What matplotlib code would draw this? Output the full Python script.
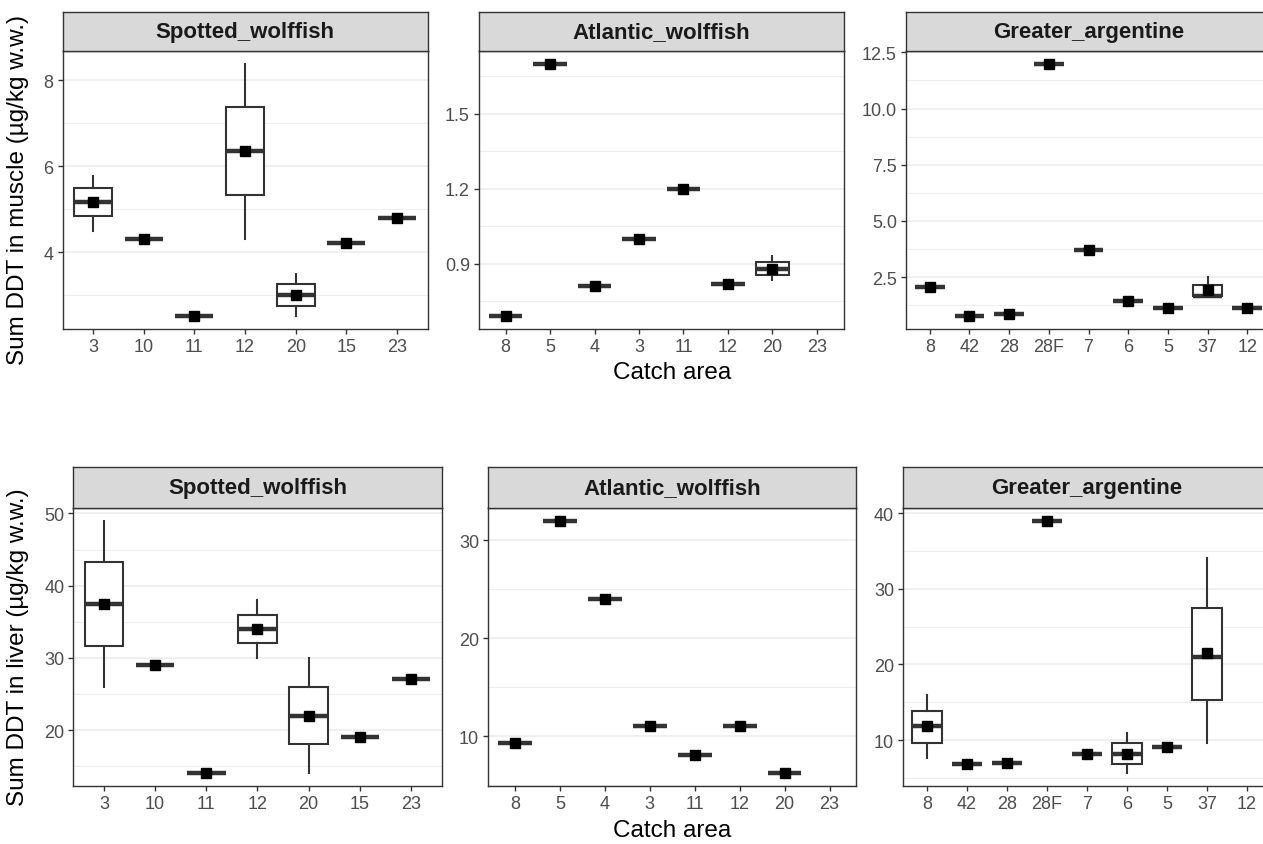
import numpy as np
import matplotlib
matplotlib.use("Agg")
from matplotlib import pyplot as plt
from matplotlib.ticker import MultipleLocator

plt.rcParams['font.family'] = ['Liberation Sans', 'DejaVu Sans']

species = ["Spotted_wolffish", "Atlantic_wolffish", "Greater_argentine"]

spotted_areas = ["3", "10", "11", "12", "20", "15", "23"]
atlantic_areas = ["8", "5", "4", "3", "11", "12", "20", "23"]
argentine_areas = ["8", "42", "28", "28F", "7", "6", "5", "37", "12"]

# box = (whisker low, q1, median, q3, whisker high, mean); single number = one sample; None = no sample
muscle_spotted = [(4.5, 4.83, 5.16, 5.49, 5.78, 5.16), 4.3, 2.5,
                  (4.31, 5.32, 6.35, 7.38, 8.39, 6.35),
                  (2.51, 2.75, 3.0, 3.25, 3.48, 3.0), 4.2, 4.8]
muscle_atlantic = [0.69, 1.70, 0.81, 1.0, 1.2, 0.82,
                   (0.834, 0.854, 0.878, 0.907, 0.93, 0.88), None]
muscle_argentine = [2.06, 0.75, 0.87, 12.0, 3.71, 1.45, 1.11,
                    (1.65, 1.65, 1.65, 2.14, 2.49, 1.93), 1.11]

liver_spotted = [(26.0, 31.7, 37.5, 43.3, 49.0, 37.5), 29.0, 14.0,
                 (30.0, 32.0, 34.0, 36.0, 38.0, 34.0),
                 (14.0, 18.0, 22.0, 26.0, 30.0, 22.0), 19.0, 27.0]
liver_atlantic = [9.35, 32.0, 24.0, 11.0, 8.05, 11.0, 6.2, None]
liver_argentine = [(7.6, 9.6, 11.8, 13.8, 15.9, 11.8), 6.8, 7.0, 39.0, 8.2,
                   (5.6, 6.8, 8.2, 9.55, 10.9, 8.2), 9.1,
                   (9.6, 15.3, 20.95, 27.45, 34.0, 21.5), None]

muscle_ticks = [(2, 1), (0.3, 0.15), (2.5, 1.25)]
liver_ticks = [(10, 5), (10, 5), (10, 5)]

W, H = 1263, 845
LINE = '#333333'


def make_stats(values):
  stats, pos = [], []
  for i, v in enumerate(values):
    if v is None:
      continue
    if not isinstance(v, tuple):
      v = (v, v, v, v, v, v)
    lo, q1, med, q3, hi, mean = v
    stats.append(dict(whislo=lo, q1=q1, med=med, q3=q3, whishi=hi, mean=mean, fliers=[]))
    pos.append(i)
  return stats, pos


def draw_panel(fig, rect, strip_h, title, areas, values, ticks):
  l, b, w, h = rect
  ax = fig.add_axes([l / W, 1 - b / H, w / W, h / H])
  stats, pos = make_stats(values)
  ax.bxp(stats, positions=pos, widths=0.75, showmeans=True, showcaps=False,
         patch_artist=True, showfliers=False,
         boxprops=dict(facecolor='white', edgecolor=LINE, linewidth=1.5),
         medianprops=dict(color=LINE, linewidth=3.2, solid_capstyle='butt'),
         whiskerprops=dict(color=LINE, linewidth=1.5),
         meanprops=dict(marker='s', markerfacecolor='black', markeredgecolor='black', markersize=6.8),
         zorder=3)
  lows = [s['whislo'] for s in stats]
  highs = [s['whishi'] for s in stats]
  span = max(highs) - min(lows)
  ax.set_ylim(min(lows) - 0.05 * span, max(highs) + 0.05 * span)
  ax.set_xlim(-0.6, len(areas) - 1 + 0.6)
  ax.set_xticks(range(len(areas)))
  ax.set_xticklabels(areas)
  ax.yaxis.set_major_locator(MultipleLocator(ticks[0]))
  ax.yaxis.set_minor_locator(MultipleLocator(ticks[1]))
  ax.grid(axis='y', which='major', color='#EBEBEB', linewidth=1.1, zorder=0)
  ax.grid(axis='y', which='minor', color='#EBEBEB', linewidth=0.6, zorder=0)
  ax.set_axisbelow(True)
  for sp in ax.spines.values():
    sp.set_color(LINE)
    sp.set_linewidth(1.0)
  ax.tick_params(which='major', length=3.5, width=1, color=LINE,
                 labelcolor='#4D4D4D', labelsize=13, pad=3)
  ax.tick_params(which='minor', length=0)

  sax = fig.add_axes([l / W, 1 - (b - h) / H, w / W, strip_h / H])
  sax.set_facecolor('#D9D9D9')
  sax.set_xticks([])
  sax.set_yticks([])
  for sp in sax.spines.values():
    sp.set_color(LINE)
    sp.set_linewidth(1.0)
  sax.text(0.5, 0.5, title, ha='center', va='center', fontsize=16,
           fontweight='bold', color='#1A1A1A', transform=sax.transAxes)
  return ax


fig = plt.figure(figsize=(W / 100, H / 100), dpi=100)

# (left, bottom, width, height) in pixels from top-left
top_rects = [(62.7, 330, 364.8, 278), (479, 330, 364.5, 278), (906, 330, 365, 278)]
bottom_rects = [(73.3, 787, 368.4, 278), (488, 787, 368.5, 278), (903, 787, 368, 278)]

muscle = [muscle_spotted, muscle_atlantic, muscle_argentine]
liver = [liver_spotted, liver_atlantic, liver_argentine]
areas = [spotted_areas, atlantic_areas, argentine_areas]

for i in range(3):
  draw_panel(fig, top_rects[i], 39, species[i], areas[i], muscle[i], muscle_ticks[i])
  draw_panel(fig, bottom_rects[i], 41, species[i], areas[i], liver[i], liver_ticks[i])

fig.text(18 / W, 1 - 190 / H, "Sum DDT in muscle (µg/kg w.w.)", rotation=90,
         ha='center', va='center', fontsize=17.5)
fig.text(18 / W, 1 - 647 / H, "Sum DDT in liver (µg/kg w.w.)", rotation=90,
         ha='center', va='center', fontsize=17.5)
fig.text(671.7 / W, 1 - 373 / H, "Catch area", ha='center', va='center', fontsize=17.5)
fig.text(671.7 / W, 1 - 831 / H, "Catch area", ha='center', va='center', fontsize=17.5)

fig.savefig("out.png", dpi=100, facecolor='white')
